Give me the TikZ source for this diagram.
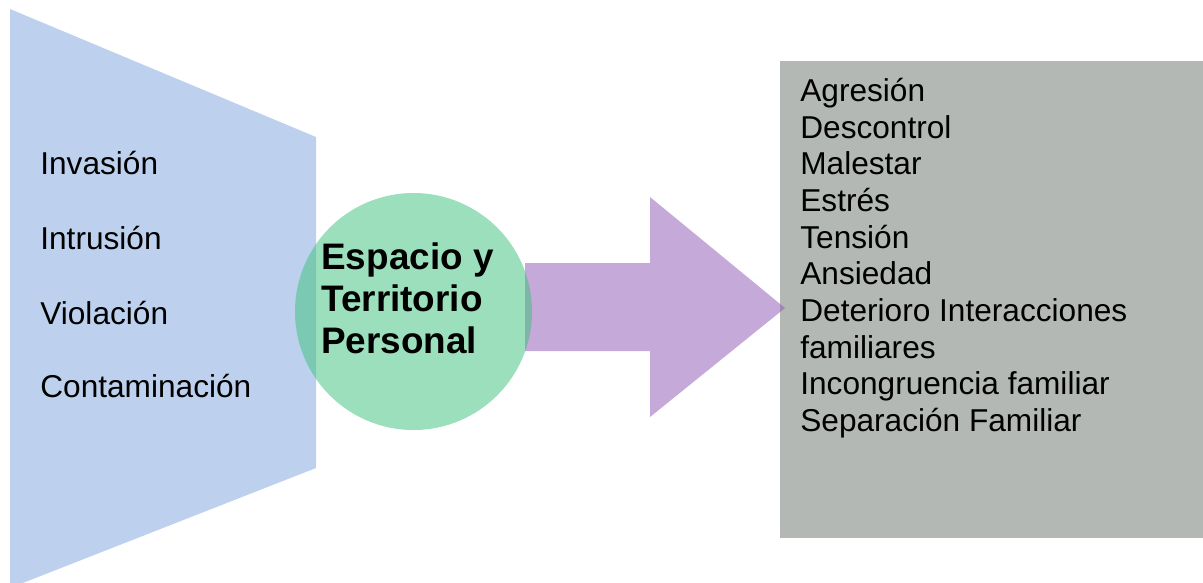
\documentclass[tikz,border=0pt]{standalone}
\usepackage{fontspec}
\setmainfont{Liberation Sans}
\usepackage{tikz}
\usetikzlibrary{positioning}
\definecolor{funnelblue}{RGB}{189,209,238}
\definecolor{circlegreen}{RGB}{58,192,122}
\definecolor{arrowpurple}{RGB}{139,83,177}
\definecolor{panelgray}{RGB}{180,184,180}

\begin{document}
\begin{tikzpicture}[
        x=0.02cm, y=-0.02cm,
        item/.style={anchor=base west, inner sep=0pt, font=\fontsize{18}{21}\selectfont},
        effects/.style={anchor=north west, inner sep=0pt, align=left, font=\fontsize{18}{20.85}\selectfont},
        core/.style={anchor=north west, inner sep=0pt, align=left, font=\bfseries\fontsize{21}{24.1}\selectfont}
    ]
        \useasboundingbox (0,0) rectangle (1203,582);
        % shapes
        \fill [funnelblue] (10,9) -- (316,137) -- (316,468) -- (10,588) -- cycle;
        \fill [panelgray] (780,61) rectangle (1203,538);
        \fill [arrowpurple, fill opacity=0.5] (525,263) -- (650,263) -- (650,197) -- (785,308)
              -- (650,417) -- (650,351) -- (525,351) -- cycle;
        \fill [circlegreen, fill opacity=0.5] (413.5,311.5) circle [radius=118.5];
        % texts
        \node [item] (invasion) at (40,174) {Invasión};
        \node [item] (intrusion) at (40,249) {Intrusión};
        \node [item] (violacion) at (40,324) {Violación};
        \node [item] (contaminacion) at (40,397) {Contaminación};
        \node [core] (espacio) at (321,242) {Espacio y\\Territorio\\Personal};
        \node [effects] (list) at (800,78) {Agresión\\Descontrol\\Malestar\\Estrés\\Tensión\\Ansiedad\\
              Deterioro Interacciones\\familiares\\Incongruencia familiar\\Separación Familiar};
    \end{tikzpicture}
\end{document}
